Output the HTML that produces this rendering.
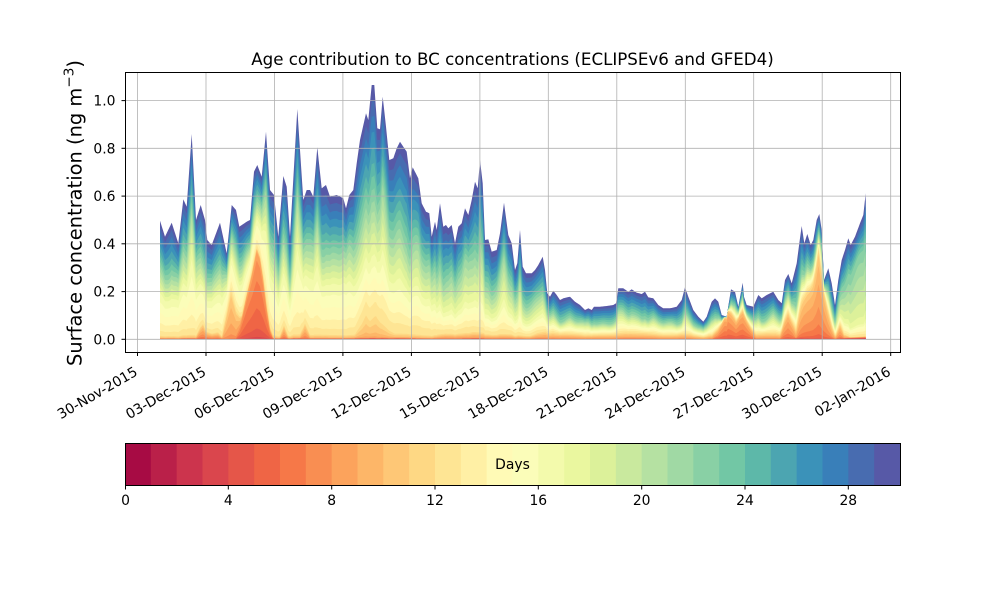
<!DOCTYPE html>
<html><head><meta charset="utf-8">
<style>
html,body{margin:0;padding:0;background:#fff;}
svg{display:block;}
text{font-family:"DejaVu Sans","Liberation Sans",sans-serif;fill:#000;}
</style></head><body>
<svg id="s" width="1000" height="600" viewBox="0 0 1000 600" xmlns="http://www.w3.org/2000/svg">
<rect x="0" y="0" width="1000" height="600" fill="#fff"/>
<g id="areas"></g>
<g stroke="#b0b0b0" stroke-width="0.8" fill="none">
<line x1="137.5" y1="72.5" x2="137.5" y2="352.3"/>
<line x1="206.0" y1="72.5" x2="206.0" y2="352.3"/>
<line x1="274.4" y1="72.5" x2="274.4" y2="352.3"/>
<line x1="342.9" y1="72.5" x2="342.9" y2="352.3"/>
<line x1="411.4" y1="72.5" x2="411.4" y2="352.3"/>
<line x1="479.9" y1="72.5" x2="479.9" y2="352.3"/>
<line x1="548.3" y1="72.5" x2="548.3" y2="352.3"/>
<line x1="616.8" y1="72.5" x2="616.8" y2="352.3"/>
<line x1="685.3" y1="72.5" x2="685.3" y2="352.3"/>
<line x1="753.7" y1="72.5" x2="753.7" y2="352.3"/>
<line x1="822.2" y1="72.5" x2="822.2" y2="352.3"/>
<line x1="890.7" y1="72.5" x2="890.7" y2="352.3"/>
<line x1="125.5" y1="339.3" x2="900.5" y2="339.3"/>
<line x1="125.5" y1="291.6" x2="900.5" y2="291.6"/>
<line x1="125.5" y1="243.8" x2="900.5" y2="243.8"/>
<line x1="125.5" y1="196.1" x2="900.5" y2="196.1"/>
<line x1="125.5" y1="148.3" x2="900.5" y2="148.3"/>
<line x1="125.5" y1="100.6" x2="900.5" y2="100.6"/>
</g>
<rect x="125.5" y="72.5" width="775" height="280" fill="none" stroke="#000" stroke-width="1"/>
<g stroke="#000" stroke-width="1">
<line x1="121.5" y1="339.3" x2="125.5" y2="339.3"/>
<line x1="121.5" y1="291.6" x2="125.5" y2="291.6"/>
<line x1="121.5" y1="243.8" x2="125.5" y2="243.8"/>
<line x1="121.5" y1="196.1" x2="125.5" y2="196.1"/>
<line x1="121.5" y1="148.3" x2="125.5" y2="148.3"/>
<line x1="121.5" y1="100.6" x2="125.5" y2="100.6"/>
<line x1="137.5" y1="352.5" x2="137.5" y2="356"/>
<line x1="206.0" y1="352.5" x2="206.0" y2="356"/>
<line x1="274.4" y1="352.5" x2="274.4" y2="356"/>
<line x1="342.9" y1="352.5" x2="342.9" y2="356"/>
<line x1="411.4" y1="352.5" x2="411.4" y2="356"/>
<line x1="479.9" y1="352.5" x2="479.9" y2="356"/>
<line x1="548.3" y1="352.5" x2="548.3" y2="356"/>
<line x1="616.8" y1="352.5" x2="616.8" y2="356"/>
<line x1="685.3" y1="352.5" x2="685.3" y2="356"/>
<line x1="753.7" y1="352.5" x2="753.7" y2="356"/>
<line x1="822.2" y1="352.5" x2="822.2" y2="356"/>
<line x1="890.7" y1="352.5" x2="890.7" y2="356"/>
</g>
<g font-size="13.89" text-anchor="end">
<text x="115.5" y="344.3">0.0</text>
<text x="115.5" y="296.6">0.2</text>
<text x="115.5" y="248.8">0.4</text>
<text x="115.5" y="201.1">0.6</text>
<text x="115.5" y="153.3">0.8</text>
<text x="115.5" y="105.6">1.0</text>
<text transform="translate(138.5,374.5) rotate(-30)">30-Nov-2015</text>
<text transform="translate(207.0,374.5) rotate(-30)">03-Dec-2015</text>
<text transform="translate(275.4,374.5) rotate(-30)">06-Dec-2015</text>
<text transform="translate(343.9,374.5) rotate(-30)">09-Dec-2015</text>
<text transform="translate(412.4,374.5) rotate(-30)">12-Dec-2015</text>
<text transform="translate(480.9,374.5) rotate(-30)">15-Dec-2015</text>
<text transform="translate(549.3,374.5) rotate(-30)">18-Dec-2015</text>
<text transform="translate(617.8,374.5) rotate(-30)">21-Dec-2015</text>
<text transform="translate(686.3,374.5) rotate(-30)">24-Dec-2015</text>
<text transform="translate(754.7,374.5) rotate(-30)">27-Dec-2015</text>
<text transform="translate(823.2,374.5) rotate(-30)">30-Dec-2015</text>
<text transform="translate(891.7,374.5) rotate(-30)">02-Jan-2016</text>
</g>
<text x="512.5" y="65" font-size="16.67" text-anchor="middle">Age contribution to BC concentrations (ECLIPSEv6 and GFED4)</text>
<text transform="translate(81.7,213) rotate(-90)" font-size="19.44" text-anchor="middle">Surface concentration (ng m<tspan font-size="13.6" dy="-8">−3</tspan><tspan dy="8">)</tspan></text>

<g id="cbar">
<rect x="125.00" y="443.5" width="26.33" height="42" fill="#a70b44"/>
<rect x="150.83" y="443.5" width="26.33" height="42" fill="#ba2049"/>
<rect x="176.67" y="443.5" width="26.33" height="42" fill="#cc344d"/>
<rect x="202.50" y="443.5" width="26.33" height="42" fill="#da464d"/>
<rect x="228.33" y="443.5" width="26.33" height="42" fill="#e55649"/>
<rect x="254.17" y="443.5" width="26.33" height="42" fill="#ef6545"/>
<rect x="280.00" y="443.5" width="26.33" height="42" fill="#f67848"/>
<rect x="305.83" y="443.5" width="26.33" height="42" fill="#f98e52"/>
<rect x="331.67" y="443.5" width="26.33" height="42" fill="#fca35c"/>
<rect x="357.50" y="443.5" width="26.33" height="42" fill="#fdb668"/>
<rect x="383.33" y="443.5" width="26.33" height="42" fill="#fec776"/>
<rect x="409.17" y="443.5" width="26.33" height="42" fill="#fed884"/>
<rect x="435.00" y="443.5" width="26.33" height="42" fill="#fee594"/>
<rect x="460.83" y="443.5" width="26.33" height="42" fill="#fff0a5"/>
<rect x="486.67" y="443.5" width="26.33" height="42" fill="#fffab6"/>
<rect x="512.50" y="443.5" width="26.33" height="42" fill="#fbfdb9"/>
<rect x="538.33" y="443.5" width="26.33" height="42" fill="#f3faac"/>
<rect x="564.17" y="443.5" width="26.33" height="42" fill="#eaf79f"/>
<rect x="590.00" y="443.5" width="26.33" height="42" fill="#dcf19a"/>
<rect x="615.83" y="443.5" width="26.33" height="42" fill="#c9e99e"/>
<rect x="641.67" y="443.5" width="26.33" height="42" fill="#b5e1a2"/>
<rect x="667.50" y="443.5" width="26.33" height="42" fill="#a0d9a4"/>
<rect x="693.33" y="443.5" width="26.33" height="42" fill="#89d0a5"/>
<rect x="719.17" y="443.5" width="26.33" height="42" fill="#72c7a5"/>
<rect x="745.00" y="443.5" width="26.33" height="42" fill="#5db8a9"/>
<rect x="770.83" y="443.5" width="26.33" height="42" fill="#4ca5b1"/>
<rect x="796.67" y="443.5" width="26.33" height="42" fill="#3b92b9"/>
<rect x="822.50" y="443.5" width="26.33" height="42" fill="#397fb9"/>
<rect x="848.33" y="443.5" width="26.33" height="42" fill="#486cb0"/>
<rect x="874.17" y="443.5" width="25.83" height="42" fill="#5759a7"/>
</g>
<rect x="125.5" y="443.5" width="775" height="42" fill="none" stroke="#000" stroke-width="1"/>
<g stroke="#000" stroke-width="1">
<line x1="125.5" y1="485.5" x2="125.5" y2="489.5"/>
<line x1="228.3" y1="485.5" x2="228.3" y2="489.5"/>
<line x1="331.7" y1="485.5" x2="331.7" y2="489.5"/>
<line x1="435.0" y1="485.5" x2="435.0" y2="489.5"/>
<line x1="538.3" y1="485.5" x2="538.3" y2="489.5"/>
<line x1="641.7" y1="485.5" x2="641.7" y2="489.5"/>
<line x1="745.0" y1="485.5" x2="745.0" y2="489.5"/>
<line x1="848.3" y1="485.5" x2="848.3" y2="489.5"/>
</g>
<g font-size="13.89" text-anchor="middle">
<text x="125.5" y="505">0</text>
<text x="228.3" y="505">4</text>
<text x="331.7" y="505">8</text>
<text x="435.0" y="505">12</text>
<text x="538.3" y="505">16</text>
<text x="641.7" y="505">20</text>
<text x="745.0" y="505">24</text>
<text x="848.3" y="505">28</text>
<text x="512.5" y="469">Days</text>
</g>
</svg>
<script>
(function(){
const NS="http://www.w3.org/2000/svg";
const cols=["#a70b44","#ba2049","#cc344d","#da464d","#e55649","#ef6545","#f67848","#f98e52","#fca35c","#fdb668","#fec776","#fed884","#fee594","#fff0a5","#fffab6","#fbfdb9","#f3faac","#eaf79f","#dcf19a","#c9e99e","#b5e1a2","#a0d9a4","#89d0a5","#72c7a5","#5db8a9","#4ca5b1","#3b92b9","#397fb9","#486cb0","#5759a7"];
const env=[[160,220.7],[165,236.7],[171.7,222.7],[178.3,243.3],[183.3,199.3],[186.7,206.7],[191.7,134],[196,220],[200.7,205],[205,220],[207.3,240],[211.7,245],[220,222.7],[226.7,253.3],[231.7,205],[236,210],[239.3,226.7],[246.7,221.7],[250,220],[254,171.7],[257.3,165],[261.7,176.7],[266,131.7],[270,190],[274,195],[278.3,236.7],[283.3,176],[286.7,186.7],[290,236.7],[297.3,109],[303.3,200],[306.7,190],[310,190],[313.3,196.7],[317.3,147.3],[321.7,188.3],[326,185],[330,196.7],[336.7,195],[343.3,198.3],[346,208.3],[349.3,195],[353.3,190],[356.7,163.3],[360,140],[366,113.3],[368.3,120],[371.7,85],[374.3,85],[377.3,128.3],[380,129.3],[382.7,96.7],[386,126.7],[389.3,160],[393.3,158.3],[396.7,148.3],[400,141.7],[403.3,146.7],[406.7,151.7],[410,178.3],[412.7,167.3],[418.3,178.3],[421.7,203.3],[426,211.7],[429.3,213.3],[431.7,236.7],[435,221.7],[436.7,230],[440,203.3],[443.3,226.7],[446,225],[448.3,228.3],[451.7,225],[455,243.3],[458.3,226.7],[461.7,223.3],[465,208.3],[468.3,215],[471.7,200],[475,181.7],[477.7,188.3],[480,160],[482.7,183.3],[485,240],[488.3,239.3],[491.7,251.7],[496.7,250],[500,233.3],[504,202.7],[508.3,235],[511.7,243.3],[515,270],[517.3,263.3],[520,230],[522.7,266.7],[526,273.3],[531.7,273.3],[535,270],[538.3,265],[542.7,256.7],[545,270],[547.3,293.3],[550,296.7],[553.3,290.7],[556.7,295],[560,300],[563.3,298.3],[570,296.7],[575,301.7],[580,305],[585,310],[588.3,308.3],[591.7,310],[594,306.7],[600,306.7],[606.7,306],[613.3,305],[616,303.3],[618.3,288.3],[623.3,288.3],[628.3,291.7],[631.7,289.3],[636.7,292.7],[641.7,294],[645,291.7],[648.3,297.3],[653.3,298.3],[658.3,305],[663.3,308.3],[670,308.3],[676.7,306.7],[681.7,300],[685,287.3],[688.3,296.7],[693.3,310],[698.3,316.7],[703.3,321.7],[706.7,316.7],[711.7,301.7],[715,298.3],[718.3,301.7],[721.7,315],[726.7,316.7],[728.5,305],[731,289.3],[735,291.7],[738.3,306.7],[742.7,282.7],[744,296.7],[746.7,305],[753.3,306.7],[758.3,295],[761.7,298.3],[766.7,295],[773.3,291.7],[778.3,300],[781.7,303.3],[785,280],[788.3,274],[791.7,283.3],[796.7,263.3],[799.3,243.3],[801.7,226],[804.3,243.3],[807.3,234],[810.7,245],[813.3,240],[816.7,220],[819.3,214],[821.7,230],[824,280],[828.3,268.3],[831.7,283.3],[835,305],[838.3,280],[841.7,260],[845,250],[848.3,238.3],[850.7,245],[855,236.7],[860,223.3],[863.3,215],[865.7,193.3]];
function lin(p,x){if(x<=p[0][0])return p[0][1];for(let i=1;i<p.length;i++){if(x<=p[i][0]){const a=p[i-1],b=p[i];return a[1]+(b[1]-a[1])*(x-a[0])/(b[0]-a[0]);}}return p[p.length-1][1];}
function lin0(p,x){if(x<=p[0][0]||x>=p[p.length-1][0])return 0;return lin(p,x);}
const Y0=339.3,XA=160,XB=865.7;
let xsSet=new Set();for(let x=XA;x<XB;x+=0.5)xsSet.add(+x.toFixed(2));env.forEach(p=>xsSet.add(p[0]));xsSet.add(XB);
const xs=[...xsSet].sort((a,b)=>a-b);
function H(x){x=Math.max(XA,Math.min(XB,x));return Y0-lin(env,x);}
function mk(o){const w=new Array(30).fill(0);for(const [a,b,v] of o){for(let i=a;i<=b;i++)w[i]=v;}const s=w.reduce((p,q)=>p+q,0);return w.map(v=>v/s);}
const PA=mk([[0,7,.0007],[8,9,.003],[10,11,.008],[12,12,.04],[13,13,.06],[14,15,.08],[16,16,.07],[17,21,.04],[22,24,.04],[25,29,.05]]);
const PA1=mk([[0,7,.0007],[8,9,.003],[10,11,.008],[12,16,.05],[17,21,.045],[22,24,.045],[25,29,.055]]);
const PA2=mk([[0,7,.001],[8,11,.01],[12,16,.04],[17,21,.055],[22,24,.05],[25,29,.058]]);
const PB=mk([[0,7,.002],[8,11,.03],[12,16,.035],[17,21,.035],[22,24,.055],[25,29,.065]]);
const PC=mk([[0,11,.002],[12,16,.02],[17,17,.06],[18,22,.11],[23,29,.045]]);
const anchors=[[0,PA],[345,PA],[362,PA1],[430,PA1],[445,PA2],[530,PA2],[548,PB],[832,PB],[850,PC],[2000,PC]];
function prof(x){for(let i=1;i<anchors.length;i++){if(x<=anchors[i][0]){const a=anchors[i-1],b=anchors[i];const t=(x-a[0])/(b[0]-a[0]);return a[1].map((v,k)=>v*(1-t)+b[1][k]*t);}}return PC;}
const SW=new Array(30).fill(0);[[13,.06],[14,.09],[15,.1],[16,.1],[17,.09],[18,.08],[19,.07],[20,.06],[23,.05],[24,.05],[25,.05],[26,.05],[27,.05],[28,.05],[29,.05]].forEach(([a,v])=>SW[a]=v);
function gw(c,s){const w=[];let t=0;for(let a=0;a<30;a++){const v=Math.exp(-0.5*Math.pow((a-c)/s,2));w.push(v);t+=v;}return w.map(v=>v/t);}
const EV=[
 {p:[[196,0],[200,8],[203,12],[206,5],[212,3],[218,4],[222,0]],c:8,s:1.5},
 {p:[[222,0],[226,20],[231,46],[235,30],[239,12],[242,0]],c:9,s:1.2},
 {p:[[236,0],[240,12],[246.7,43],[252,65],[256.7,89],[260,80],[263,60],[266.7,29],[270,8],[273,0]],c:6,s:1.3},
 {p:[[280,0],[284,10],[288,0]],c:8,s:1.5},
 {p:[[300,0],[305,12],[310,0]],c:8.5,s:1.5},
 {p:[[355,0],[362,12],[366,22],[370,14],[376,21],[381,12],[388,5],[395,0]],c:10.5,s:1.2},
 {p:[[712,0],[718,6],[724,20],[728,28],[732,22],[736,15],[740,23],[743,25],[747,16],[751,8],[756,0]],c:7,s:1.6},
 {p:[[780,0],[784,12],[788,21],[792,12],[796,0]],c:7.5,s:1.5},
 {p:[[796,0],[800,20],[804,34],[809,42],[813,50],[816,65],[818.5,85],[821,65],[824,45],[828,22],[832,6],[835,0]],c:8,s:1.6},
 {p:[[836,0],[840,10],[844,0]],c:8,s:1.5}
];
EV.forEach(e=>e.w=gw(e.c,e.s));
const cum=[];for(let a=0;a<30;a++)cum.push([]);
xs.forEach(x=>{
  const h=H(x);
  let hs=0,n=0;for(let k=-9;k<=9;k++){hs+=H(x+k);n++;}hs/=n;
  const amt=new Array(30).fill(0);
  let O=0;const eo=EV.map(e=>{const v=lin0(e.p,x);O+=v;return v;});
  let sc=1;if(O>0.92*h){sc=0.92*h/O;O=0.92*h;}
  EV.forEach((e,i)=>{if(eo[i]>0){for(let a=0;a<30;a++)amt[a]+=eo[i]*sc*e.w[a];}});
  const r=h-O;const hb=Math.min(r,hs);const ex=r-hb;
  const P=prof(x);
  const m=1+0.1*Math.sin(x/6.3)+0.07*Math.sin(x/2.7+1.3);
  let old=0,mid=0;
  const base=P.map(v=>v*hb);
  for(let a=22;a<30;a++)old+=base[a];
  for(let a=12;a<22;a++)mid+=base[a];
  const d=old*(m-1);
  if(mid>0){for(let a=22;a<30;a++)base[a]*=m;for(let a=12;a<22;a++)base[a]*=(1-d/mid);}
  for(let a=0;a<30;a++)amt[a]+=base[a]+ex*SW[a];
  let c=0;for(let a=0;a<30;a++){c+=amt[a];cum[a].push([x,Y0-c]);}
});
const g=document.getElementById("areas");
for(let a=29;a>=0;a--){
  let d="M"+XA+","+Y0;
  cum[a].forEach(p=>{d+="L"+p[0].toFixed(2)+","+p[1].toFixed(2);});
  d+="L"+XB+","+Y0+"Z";
  const pa=document.createElementNS(NS,"path");
  pa.setAttribute("d",d);pa.setAttribute("fill",cols[a]);
  g.appendChild(pa);
}
})();
</script>
</body></html>
